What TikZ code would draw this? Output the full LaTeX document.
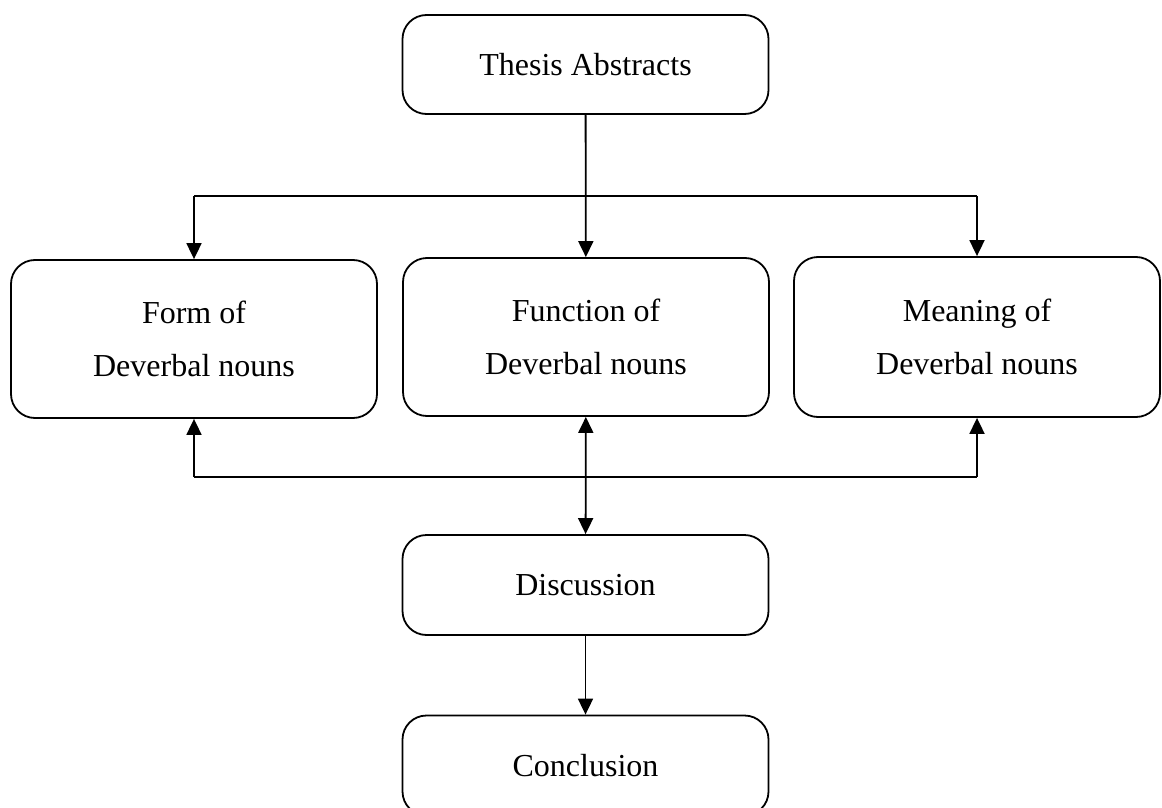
\documentclass[tikz,border=0pt]{standalone}
\usepackage{fontspec}
\setmainfont{Liberation Serif}
\usetikzlibrary{arrows.meta,positioning,calc}

\tikzset{
  box/.style={draw, line width=0.9pt, rounded corners=12pt, minimum width=183pt,
              align=center, font=\fontsize{16}{26.5}\selectfont, inner sep=0pt},
  arr/.style={line width=0.9pt, -{Triangle[length=8pt,width=7.5pt]}},
  arrb/.style={line width=0.9pt, {Triangle[length=8pt,width=7.5pt]}-{Triangle[length=8pt,width=7.5pt]}},
  line/.style={line width=0.9pt}
}

\begin{document}
\begin{tikzpicture}[x=0.5pt, y=-0.5pt]
  \clip (0,0) rectangle (1162,808);
  \useasboundingbox (0,0) rectangle (1162,808);

  % Top
  \node[box, minimum height=49.5pt] (thesis) at (585.5, 64.5) {Thesis Abstracts};

  % Middle row
  \node[box, minimum height=79pt] (form) at (194, 339) {Form of\\Deverbal nouns};
  \node[box, minimum height=79pt] (function) at (586, 337) {Function of\\Deverbal nouns};
  \node[box, minimum height=80pt] (meaning) at (977, 337) {Meaning of\\Deverbal nouns};

  % Bottom
  \node[box, minimum height=50pt] (discussion) at (585.5, 585) {Discussion};
  \node[box, minimum height=50pt] (conclusion) at (585.5, 765.5) {Conclusion};

  \coordinate (top) at (585, 196);
  \coordinate (bot) at (585, 477);

  % Connectors
  \draw[arr] (thesis) -- (function);
  \draw[line] (form.north |- top) -- (meaning.north |- top);
  \draw[arr] (form.north |- top) -- (form.north);
  \draw[arr] (meaning.north |- top) -- (meaning.north);

  \draw[line] (form.south |- bot) -- (meaning.south |- bot);
  \draw[arr] (form.south |- bot) -- (form.south);
  \draw[arr] (meaning.south |- bot) -- (meaning.south);
  \draw[arrb] (function) -- (discussion);
  \draw[arr] (discussion) -- (conclusion);
\end{tikzpicture}
\end{document}
